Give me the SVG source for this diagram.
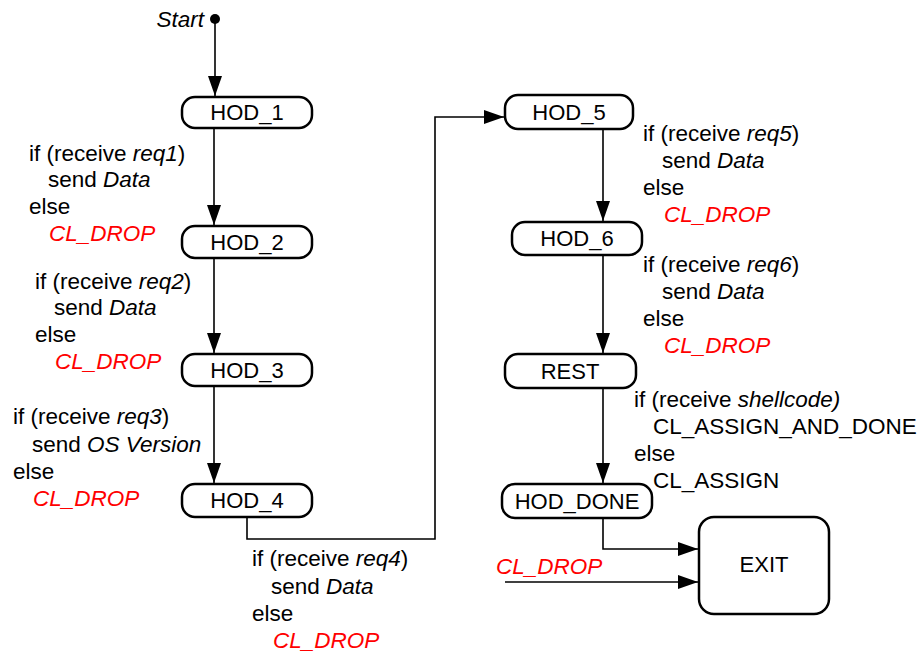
<svg xmlns="http://www.w3.org/2000/svg" width="923" height="654" viewBox="0 0 923 654">
<defs>
<marker id="ah" markerWidth="20" markerHeight="14" refX="20" refY="7" orient="auto" markerUnits="userSpaceOnUse">
<path d="M0,0 L20,7 L0,14 Z" fill="#000"/>
</marker>
<style>
.node{fill:#fff;stroke:#000;stroke-width:2.5}
.nt{font-family:"Liberation Sans",Arial,sans-serif;font-size:22px;fill:#000;text-anchor:middle}
.t{font-family:"Liberation Sans",Arial,sans-serif;font-size:22.5px;fill:#000}
.r{fill:#ff0000;font-style:italic}
.i{font-style:italic}
.c{fill:none;stroke:#000;stroke-width:1.6}
</style>
</defs>
<rect width="923" height="654" fill="#fff"/>
<g id="connectors">
<circle cx="215" cy="19" r="5" fill="#000"/>
<path class="c" d="M215,19 V96" marker-end="url(#ah)"/>
<path class="c" d="M214,128 V225" marker-end="url(#ah)"/>
<path class="c" d="M214,258 V353" marker-end="url(#ah)"/>
<path class="c" d="M214,386 V483" marker-end="url(#ah)"/>
<path class="c" d="M247,517 V539 H435 V117 H504" marker-end="url(#ah)"/>
<path class="c" d="M603,129 V221" marker-end="url(#ah)"/>
<path class="c" d="M603,255 V353" marker-end="url(#ah)"/>
<path class="c" d="M603,388 V483" marker-end="url(#ah)"/>
<path class="c" d="M603,518 V549 H698" marker-end="url(#ah)"/>
<path class="c" d="M505,582 H698" marker-end="url(#ah)"/>
</g>
<g id="start"><text class="t i" x="204" y="27" text-anchor="end">Start</text></g>
<g id="hod1"><rect class="node" x="182" y="97" width="130" height="31" rx="13"/><text class="nt" x="247" y="120">HOD_1</text></g>
<g id="hod2"><rect class="node" x="182" y="226" width="130" height="32" rx="13"/><text class="nt" x="247" y="250">HOD_2</text></g>
<g id="hod3"><rect class="node" x="182" y="354" width="130" height="32" rx="13"/><text class="nt" x="247" y="378">HOD_3</text></g>
<g id="hod4"><rect class="node" x="182" y="484" width="130" height="33" rx="13"/><text class="nt" x="247" y="508">HOD_4</text></g>
<g id="hod5"><rect class="node" x="505" y="95" width="128" height="34" rx="13"/><text class="nt" x="569" y="120">HOD_5</text></g>
<g id="hod6"><rect class="node" x="512" y="222" width="130" height="33" rx="13"/><text class="nt" x="577" y="246">HOD_6</text></g>
<g id="rest"><rect class="node" x="505" y="354" width="131" height="34" rx="13"/><text class="nt" x="570" y="379">REST</text></g>
<g id="hod_done"><rect class="node" x="502" y="484" width="150" height="34" rx="13"/><text class="nt" x="577" y="509">HOD_DONE</text></g>
<g id="exit"><rect class="node" x="699" y="517" width="130" height="97" rx="15"/><text class="nt" x="764" y="572">EXIT</text></g>
<g id="labels">
<text class="t" x="29" y="161">if (receive <tspan class="i">req1</tspan>)</text>
<text class="t" x="48" y="187">send <tspan class="i">Data</tspan></text>
<text class="t" x="29" y="214">else</text>
<text class="t r" x="49" y="241">CL_DROP</text>

<text class="t" x="35" y="289">if (receive <tspan class="i">req2</tspan>)</text>
<text class="t" x="54" y="315">send <tspan class="i">Data</tspan></text>
<text class="t" x="35" y="342">else</text>
<text class="t r" x="55" y="369">CL_DROP</text>

<text class="t" x="13" y="424">if (receive <tspan class="i">req3</tspan>)</text>
<text class="t" x="32" y="452">send <tspan class="i">OS Version</tspan></text>
<text class="t" x="13" y="479">else</text>
<text class="t r" x="33" y="506">CL_DROP</text>

<text class="t" x="252" y="566">if (receive <tspan class="i">req4</tspan>)</text>
<text class="t" x="271" y="594">send <tspan class="i">Data</tspan></text>
<text class="t" x="252" y="621">else</text>
<text class="t r" x="273" y="648">CL_DROP</text>

<text class="t" x="643" y="141">if (receive <tspan class="i">req5</tspan>)</text>
<text class="t" x="662" y="168">send <tspan class="i">Data</tspan></text>
<text class="t" x="643" y="195">else</text>
<text class="t r" x="664" y="222">CL_DROP</text>

<text class="t" x="643" y="272">if (receive <tspan class="i">req6</tspan>)</text>
<text class="t" x="662" y="299">send <tspan class="i">Data</tspan></text>
<text class="t" x="643" y="326">else</text>
<text class="t r" x="664" y="353">CL_DROP</text>

<text class="t" x="634" y="407">if (receive <tspan class="i">shellcode)</tspan></text>
<text class="t" x="653" y="434">CL_ASSIGN_AND_DONE</text>
<text class="t" x="634" y="461">else</text>
<text class="t" x="653" y="488">CL_ASSIGN</text>

<text class="t r" x="496" y="574">CL_DROP</text>
</g>
</svg>
